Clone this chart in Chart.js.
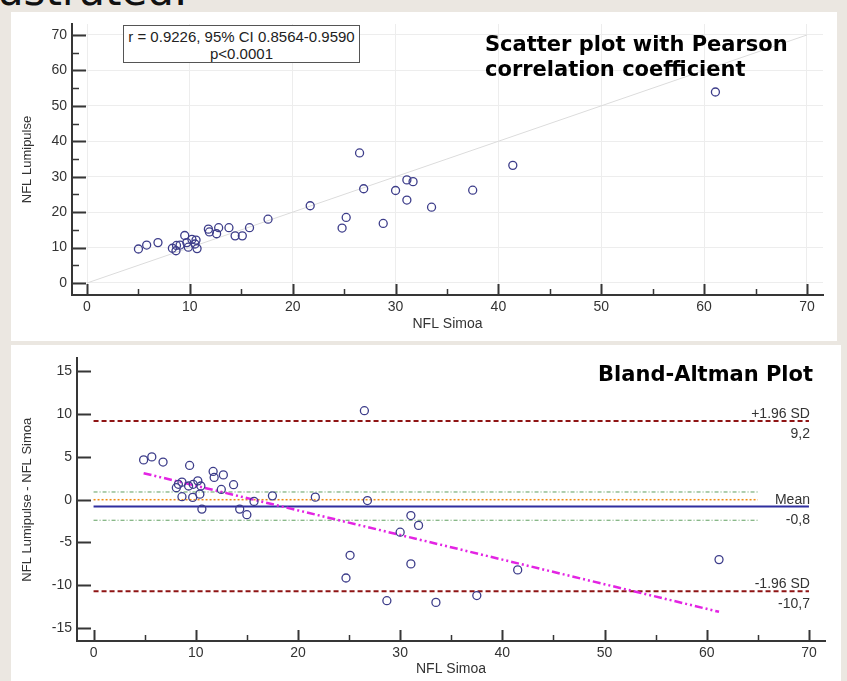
<!DOCTYPE html>
<html>
<head>
<meta charset="utf-8">
<script src="https://cdn.jsdelivr.net/npm/chart.js@4.4.1/dist/chart.umd.min.js"></script>
<style>
  html, body { margin: 0; padding: 0; }
  body { width: 847px; height: 681px; overflow: hidden; position: relative; background: #ebe7e1; }
  .panel { position: absolute; background: #fff; }
  .holder { position: absolute; left: 0; width: 847px; }
  canvas { display: block; }
  .slide-text { position: absolute; left: -3px; top: -30px; font: 42px/42px "DejaVu Sans", sans-serif; color: #111; }
  .stats { position: absolute; left: 123px; top: 25px; width: 237px; height: 38px; border: 1px solid #555;
           font: 15px/17px "Liberation Sans", Arial, sans-serif; color: #222; text-align: center; padding-top: 2px; box-sizing: border-box; background: #fff; }
  .title { position: absolute; font: bold 21px/25px "DejaVu Sans", Verdana, sans-serif; color: #000; }
</style>
</head>
<body>
<div class="slide-text">ustrated.</div>
<div class="panel" style="left:11px; top:12px; width:826px; height:329px;"></div>
<div class="panel" style="left:11px; top:345px; width:830px; height:336px;"></div>
<div class="holder" style="top:0; height:341px;"><canvas id="corrChart" width="847" height="341"></canvas></div>
<div class="holder" style="top:345px; height:336px;"><canvas id="baChart" width="847" height="336"></canvas></div>
<div class="stats">r = 0.9226, 95% CI 0.8564-0.9590<br>p&lt;0.0001</div>
<div class="title" style="left:485px; top:32px;">Scatter plot with Pearson<br>correlation coefficient</div>
<div class="title" style="right:34px; top:362px; text-align:right;">Bland-Altman Plot</div>

<script>
// scatter plot: NFL Simoa (x) vs NFL Lumipulse (y)
const simoa = [5.0, 5.8, 6.9, 8.3, 8.7, 8.65, 9.05, 9.5, 9.7, 9.85, 10.2, 10.6, 10.5, 10.7, 11.8, 11.9, 12.6, 12.8, 13.8, 14.4,
               15.1, 15.8, 17.6, 21.7, 24.8, 25.2, 26.5, 26.9, 28.8, 30.0, 31.1, 31.7, 31.1, 33.5, 37.5, 41.4, 61.1];
const lumipulse = [9.6, 10.7, 11.4, 9.8, 10.6, 9.1, 10.7, 13.4, 11.4, 10.1, 12.3, 12.1, 11.0, 9.7, 15.2, 14.4, 13.9, 15.6, 15.6, 13.3,
                   13.3, 15.6, 18.0, 21.8, 15.5, 18.5, 36.7, 26.6, 16.8, 26.1, 29.1, 28.6, 23.4, 21.4, 26.2, 33.2, 53.9];
const identityX = [0, 70];
const identityY = [0, 70];

// Bland-Altman: NFL Simoa (x) vs difference Lumipulse - Simoa (y)
const baSimoa = [4.9, 5.7, 6.8, 9.4, 8.1, 8.3, 8.65, 8.65, 9.3, 9.75, 9.7, 10.2, 10.5, 10.4, 10.6, 11.7, 11.8, 12.7, 12.5, 13.7,
                 14.3, 15.0, 15.7, 17.5, 21.7, 24.7, 25.1, 26.5, 26.8, 28.7, 30.0, 31.05, 31.05, 31.8, 33.5, 37.5, 41.5, 61.2];
const baDiff = [4.65, 5.0, 4.4, 4.0, 1.4, 1.8, 2.05, 0.35, 1.6, 1.8, 0.27, 2.2, 1.6, 0.65, -1.1, 3.3, 2.6, 2.9, 1.2, 1.75,
                -1.1, -1.75, -0.2, 0.45, 0.3, -9.15, -6.5, 10.4, -0.1, -11.8, -3.8, -1.85, -7.5, -3.0, -12.0, -11.2, -8.2, -7.0];
const refValues = [9.2, -0.8, -10.7];            // +1.96 SD, mean, -1.96 SD
const refLabelsAbove = ["+1.96 SD", "Mean", "-1.96 SD"];
const refLabelsBelow = ["9,2", "-0,8", "-10,7"];
const refSpan = [0, 70];
const meanCI = [0.9, -2.4];
const equalityY = 0;
const ciSpan = [0, 65];
const regX = [4.9, 61.2];
const regY = [3.1, -13.1];

// axes
const xTicks = [0, 10, 20, 30, 40, 50, 60, 70];
const xMinor = [5, 15, 25, 35, 45, 55, 65];
const corrYTicks = [0, 10, 20, 30, 40, 50, 60, 70];
const corrYMinor = [5, 15, 25, 35, 45, 55, 65];
const baYTicks = [-15, -10, -5, 0, 5, 10, 15];

const FONT = "'Liberation Sans', Arial, sans-serif";
const AXIS = "#363636";

const pts = (xs, ys) => xs.map((x, i) => ({x: x, y: ys[i]}));
const hline = (v, span) => span.map(x => ({x: x, y: v}));

// ticks drawn inward from the axis lines
const innerTicks = {
    id: "innerTicks",
    afterDraw(chart, args, o) {
        const {ctx, chartArea: a, scales: {x, y}} = chart;
        ctx.save();
        ctx.strokeStyle = AXIS;
        const draw = (vals, len, horiz, w) => {
            ctx.lineWidth = w;
            ctx.beginPath();
            vals.forEach(v => {
                if (horiz) {
                    const px = Math.round(x.getPixelForValue(v)) + 0.5;
                    ctx.moveTo(px, a.bottom);
                    ctx.lineTo(px, a.bottom - len);
                } else {
                    const py = Math.round(y.getPixelForValue(v)) + 0.5;
                    ctx.moveTo(a.left, py);
                    ctx.lineTo(a.left + len, py);
                }
            });
            ctx.stroke();
        };
        draw(o.xMajor, 11, true, 2);
        draw(o.xMinor, 6, true, 1.5);
        draw(o.yMajor, 14, false, 2);
        draw(o.yMinor || [], 7, false, 1.5);
        ctx.restore();
    }
};

// reference line captions at the right end
const refCaptions = {
    id: "refCaptions",
    afterDraw(chart, args, o) {
        if (!o.values) return;
        const {ctx, scales: {x, y}} = chart;
        const px = x.getPixelForValue(refSpan[1]) + 1;
        ctx.save();
        ctx.font = "14px " + FONT;
        ctx.fillStyle = "#333";
        ctx.textAlign = "right";
        ctx.textBaseline = "alphabetic";
        o.values.forEach((v, i) => {
            const py = y.getPixelForValue(v);
            ctx.fillText(refLabelsAbove[i], px, py - 3);
            ctx.fillText(refLabelsBelow[i], px, py + 17);
        });
        ctx.restore();
    }
};

function axis(min, max, ticks, width, title, titlePad, tickPad, gridColor, isX) {
    return {
        type: "linear",
        min: min,
        max: max,
        afterBuildTicks: s => { s.ticks = ticks.map(v => ({value: v})); },
        afterFit: s => { if (isX) s.height = width; else s.width = width; },
        grid: {color: gridColor, lineWidth: 1, drawTicks: false},
        border: {display: true, color: AXIS, width: 2},
        ticks: {color: "#333", font: {family: FONT, size: 14}, padding: tickPad, maxRotation: 0, autoSkip: false},
        title: {display: true, text: title, color: "#333", font: {family: FONT, size: isX ? 14 : 13}, padding: titlePad}
    };
}

const circle = {
    pointStyle: "circle",
    pointRadius: 4,
    pointHoverRadius: 4,
    pointBorderWidth: 1.3,
    borderColor: "#3d3d8a",
    backgroundColor: "rgba(0,0,0,0)",
    showLine: false
};

new Chart(document.getElementById("corrChart"), {
    type: "scatter",
    data: {
        datasets: [
            Object.assign({data: pts(simoa, lumipulse), order: 0}, circle),
            {data: pts(identityX, identityY), showLine: true, borderColor: "#dcdcdc", borderWidth: 1, pointRadius: 0, order: 1}
        ]
    },
    options: {
        responsive: false,
        devicePixelRatio: 1,
        animation: false,
        layout: {padding: {left: 0, top: 24, right: 24, bottom: 0}},
        plugins: {
            legend: {display: false},
            tooltip: {enabled: false},
            innerTicks: {xMajor: xTicks, xMinor: xMinor, yMajor: corrYTicks, yMinor: corrYMinor},
            refCaptions: {}
        },
        scales: {
            x: axis(-1.46, 71.56, xTicks, 46, "NFL Simoa", {bottom: 8}, 4, "#ededed", true),
            y: axis(-3.39, 73.1, corrYTicks, 72, "NFL Lumipulse", {top: 20}, 5, "#ededed", false)
        }
    },
    plugins: [innerTicks, refCaptions]
});

new Chart(document.getElementById("baChart"), {
    type: "scatter",
    data: {
        datasets: [
            Object.assign({data: pts(baSimoa, baDiff), order: 0}, circle),
            {data: hline(refValues[0], refSpan), showLine: true, borderColor: "#8e1414", borderWidth: 2, borderDash: [5, 3], pointRadius: 0, order: 2},
            {data: hline(refValues[1], refSpan), showLine: true, borderColor: "#2f2f9e", borderWidth: 2, pointRadius: 0, order: 2},
            {data: hline(refValues[2], refSpan), showLine: true, borderColor: "#8e1414", borderWidth: 2, borderDash: [5, 3], pointRadius: 0, order: 2},
            {data: hline(equalityY, ciSpan), showLine: true, borderColor: "#f08a10", borderWidth: 1.5, borderDash: [2, 2], pointRadius: 0, order: 3},
            {data: hline(meanCI[0], ciSpan), showLine: true, borderColor: "#5f9f5f", borderWidth: 1, borderDash: [4, 2, 1, 2], pointRadius: 0, order: 3},
            {data: hline(meanCI[1], ciSpan), showLine: true, borderColor: "#5f9f5f", borderWidth: 1, borderDash: [4, 2, 1, 2], pointRadius: 0, order: 3},
            {data: pts(regX, regY), showLine: true, borderColor: "#e324e3", borderWidth: 2.5, borderDash: [8, 3, 2, 3, 2, 3], pointRadius: 0, order: 1}
        ]
    },
    options: {
        responsive: false,
        devicePixelRatio: 1,
        animation: false,
        layout: {padding: {left: 0, top: 12, right: 22, bottom: 0}},
        plugins: {
            legend: {display: false},
            tooltip: {enabled: false},
            innerTicks: {xMajor: xTicks, xMinor: xMinor, yMajor: baYTicks},
            refCaptions: {values: refValues}
        },
        scales: {
            x: axis(-1.62, 71.57, xTicks, 40, "NFL Simoa", {bottom: 3}, 4, "rgba(0,0,0,0)", true),
            y: axis(-16.51, 16.51, baYTicks, 77, "NFL Lumipulse - NFL Simoa", {top: 20}, 5, "rgba(0,0,0,0)", false)
        }
    },
    plugins: [innerTicks, refCaptions]
});
</script>
</body>
</html>
